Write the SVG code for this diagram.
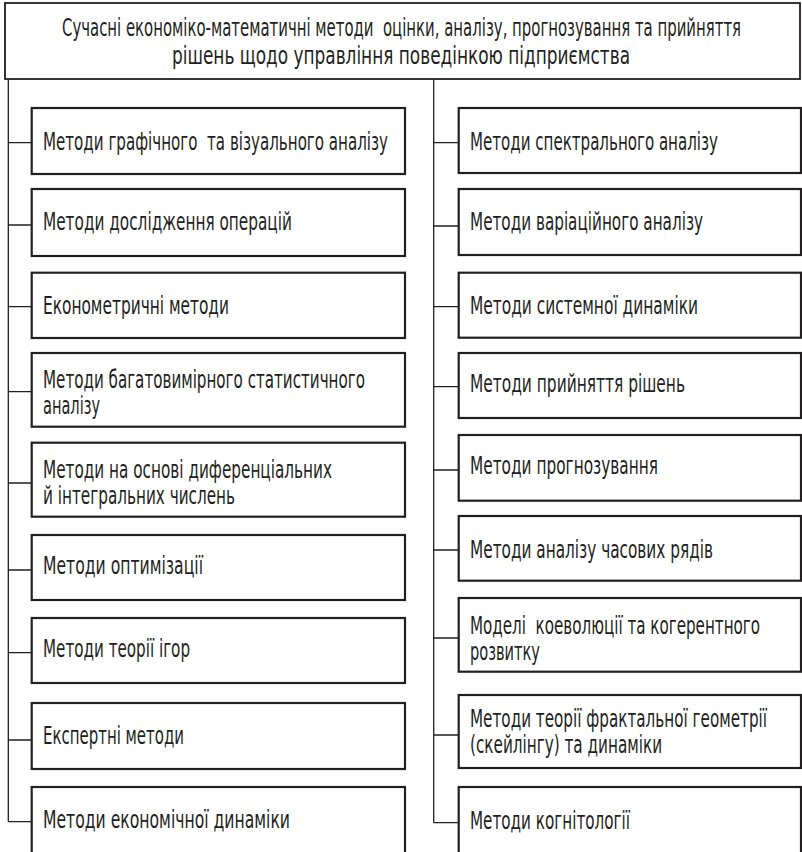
<svg xmlns="http://www.w3.org/2000/svg" width="802" height="852" viewBox="0 0 802 852">
<style>
.box{fill:#fff;stroke:#231f20;stroke-width:2.2}
.top{fill:#fff;stroke:#231f20;stroke-width:1.8}
.ln{fill:none;stroke:#231f20;stroke-width:1.3}
text{font-family:"DejaVu Sans Condensed","Liberation Sans Narrow","Liberation Sans",sans-serif;font-size:24.5px;fill:#231f20;white-space:pre}
</style>
<rect width="802" height="852" fill="#fff"/>
<g id="connectors">
<path class="ln" d="M8.3 79V821.7M8.3 142.7H31.7M8.3 225H31.7M8.3 306.7H31.7M8.3 391.7H31.7M8.3 483H31.7M8.3 570H31.7M8.3 652.7H31.7M8.3 740H31.7M8.3 821.7H31.7"/>
<path class="ln" d="M433.7 79V822.7M433.7 142.7H458.7M433.7 226H458.7M433.7 306.7H458.7M433.7 386.7H458.7M433.7 470H458.7M433.7 550H458.7M433.7 638H458.7M433.7 735H458.7M433.7 822.7H458.7"/>
</g>
<g id="root">
<rect class="top" x="5" y="3" width="795" height="76"/>
<text xml:space="preserve" transform="translate(401.5 36) scale(0.72 1)" text-anchor="middle" textLength="943.1" lengthAdjust="spacingAndGlyphs">Сучасні економіко-математичні методи  оцінки, аналізу, прогнозування та прийняття</text>
<text transform="translate(401 63.5) scale(0.72 1)" text-anchor="middle" textLength="636.1" lengthAdjust="spacingAndGlyphs">рішень щодо управління поведінкою підприємства</text>
</g>
<g id="l1"><rect class="box" x="31.7" y="108" width="373.3" height="66"/><text xml:space="preserve" transform="translate(43 150) scale(0.72 1)" textLength="479.2" lengthAdjust="spacingAndGlyphs">Методи графічного  та візуального аналізу</text></g>
<g id="l2"><rect class="box" x="31.7" y="189" width="373.3" height="67"/><text transform="translate(43 230) scale(0.72 1)" textLength="345.8" lengthAdjust="spacingAndGlyphs">Методи дослідження операцій</text></g>
<g id="l3"><rect class="box" x="31.7" y="272.7" width="373.3" height="65.3"/><text transform="translate(43 313.5) scale(0.72 1)" textLength="258.3" lengthAdjust="spacingAndGlyphs">Економетричні методи</text></g>
<g id="l4"><rect class="box" x="31.7" y="353" width="373.3" height="73.7"/><text transform="translate(43 388) scale(0.72 1)" textLength="447.2" lengthAdjust="spacingAndGlyphs">Методи багатовимірного статистичного</text><text transform="translate(43 414) scale(0.72 1)" textLength="79.2" lengthAdjust="spacingAndGlyphs">аналізу</text></g>
<g id="l5"><rect class="box" x="31.7" y="442.7" width="373.3" height="74"/><text transform="translate(43 477.5) scale(0.72 1)" textLength="401.4" lengthAdjust="spacingAndGlyphs">Методи на основі диференціальних</text><text transform="translate(43 503.5) scale(0.72 1)" textLength="266.7" lengthAdjust="spacingAndGlyphs">й інтегральних числень</text></g>
<g id="l6"><rect class="box" x="31.7" y="535" width="373.3" height="65"/><text transform="translate(43 574) scale(0.72 1)" textLength="222.2" lengthAdjust="spacingAndGlyphs">Методи оптимізації</text></g>
<g id="l7"><rect class="box" x="31.7" y="618" width="373.3" height="65"/><text transform="translate(43 657) scale(0.72 1)" textLength="204.2" lengthAdjust="spacingAndGlyphs">Методи теорії ігор</text></g>
<g id="l8"><rect class="box" x="31.7" y="703" width="373.3" height="66"/><text transform="translate(43 743.5) scale(0.72 1)" textLength="195.8" lengthAdjust="spacingAndGlyphs">Експертні методи</text></g>
<g id="l9"><rect class="box" x="31.7" y="787" width="373.3" height="80"/><text transform="translate(43 827.5) scale(0.72 1)" textLength="343.1" lengthAdjust="spacingAndGlyphs">Методи економічної динаміки</text></g>
<g id="r1"><rect class="box" x="458.7" y="108" width="342.3" height="65"/><text transform="translate(470 150) scale(0.72 1)" textLength="344.4" lengthAdjust="spacingAndGlyphs">Методи спектрального аналізу</text></g>
<g id="r2"><rect class="box" x="458.7" y="189" width="342.3" height="66"/><text transform="translate(470 230) scale(0.72 1)" textLength="323.6" lengthAdjust="spacingAndGlyphs">Методи варіаційного аналізу</text></g>
<g id="r3"><rect class="box" x="458.7" y="272.7" width="342.3" height="65"/><text transform="translate(470 313.5) scale(0.72 1)" textLength="316.7" lengthAdjust="spacingAndGlyphs">Методи системної динаміки</text></g>
<g id="r4"><rect class="box" x="458.7" y="353" width="342.3" height="65"/><text transform="translate(470 392) scale(0.72 1)" textLength="298.6" lengthAdjust="spacingAndGlyphs">Методи прийняття рішень</text></g>
<g id="r5"><rect class="box" x="458.7" y="435" width="342.3" height="65.7"/><text transform="translate(470 473.5) scale(0.72 1)" textLength="261.1" lengthAdjust="spacingAndGlyphs">Методи прогнозування</text></g>
<g id="r6"><rect class="box" x="458.7" y="516" width="342.3" height="64.7"/><text transform="translate(470 557.5) scale(0.72 1)" textLength="337.5" lengthAdjust="spacingAndGlyphs">Методи аналізу часових рядів</text></g>
<g id="r7"><rect class="box" x="458.7" y="598" width="342.3" height="73.7"/><text xml:space="preserve" transform="translate(470 633.5) scale(0.72 1)" textLength="402.8" lengthAdjust="spacingAndGlyphs">Моделі  коеволюції та когерентного</text><text transform="translate(470 660) scale(0.72 1)" textLength="97.2" lengthAdjust="spacingAndGlyphs">розвитку</text></g>
<g id="r8"><rect class="box" x="458.7" y="695" width="342.3" height="73"/><text transform="translate(470 727) scale(0.72 1)" textLength="412.5" lengthAdjust="spacingAndGlyphs">Методи теорії фрактальної геометрії</text><text transform="translate(470 753) scale(0.72 1)" textLength="266.7" lengthAdjust="spacingAndGlyphs">(скейлінгу) та динаміки</text></g>
<g id="r9"><rect class="box" x="458.7" y="787" width="342.3" height="80"/><text transform="translate(470 828.5) scale(0.72 1)" textLength="222.2" lengthAdjust="spacingAndGlyphs">Методи когнітології</text></g>
</svg>
